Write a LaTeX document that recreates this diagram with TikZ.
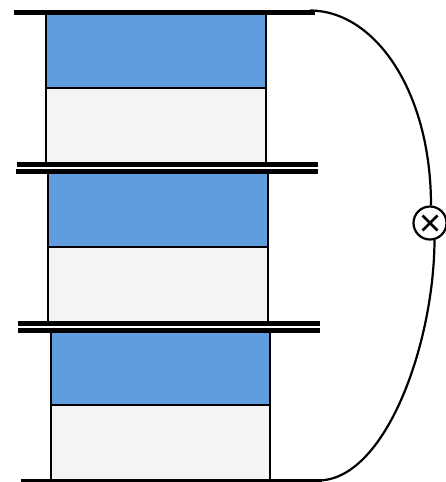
\documentclass[tikz,border=0pt]{standalone}
\definecolor{cellblue}{HTML}{619DDE}
\definecolor{cellgray}{HTML}{F4F4F4}
\tikzset{
  bluecell/.style={draw=black,fill=cellblue,line width=1.7pt},
  graycell/.style={draw=black,fill=cellgray,line width=1.7pt},
  plate/.style={line width=5pt,black},
  wire/.style={line width=2.2pt,black},
  meter/.style={circle,draw=black,fill=white,line width=2.2pt,minimum size=33pt,inner sep=0pt}
}
\begin{document}
\begin{tikzpicture}[x=1pt,y=-1pt]
\useasboundingbox (0,0) rectangle (446,482);
% first stack
\draw[bluecell] (46,13) rectangle (266,88);
\draw[graycell] (46,88) rectangle (266,163);
% second stack
\draw[bluecell] (48,172) rectangle (268,247);
\draw[graycell] (48,247) rectangle (268,322);
% third stack
\draw[bluecell] (50.7,331) rectangle (270,405);
\draw[graycell] (50.7,405) rectangle (270,481);
% plates
\coordinate (topL) at (14,12.5);
\coordinate (topR) at (315,12.5);
\coordinate (botL) at (21,480.5);
\coordinate (botR) at (322,480.5);
\draw[plate] (topL) -- (topR);
\draw[plate] (16.5,164.5) -- (318,164.5);
\draw[plate] (15.5,171) -- (317.5,171);
\draw[plate] (18,323.2) -- (320,323.2);
\draw[plate] (18,330.2) -- (320,330.2);
\draw[wire,line width=3pt] (botL) -- (botR);
% meter
\node[meter] (m) at (430,223) {};
\draw[line width=2.5pt] (m.center) ++(-7.5,-7.5) -- ++(15,15);
\draw[line width=2.5pt] (m.center) ++(-7.5,7.5) -- ++(15,-15);
% wires
\coordinate (upA) at (431,205.5);
\coordinate (loA) at (434.5,240);
\draw[wire] (310,10.5) .. controls (374,10.5) and (431,90) .. (upA);
\draw[wire] (loA) .. controls (434,345) and (385,480.5) .. (318,480.5);
\end{tikzpicture}
\end{document}
